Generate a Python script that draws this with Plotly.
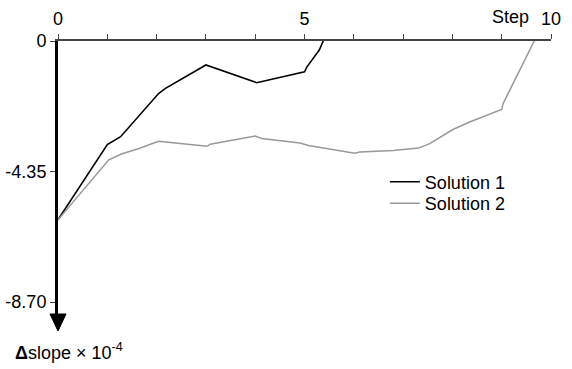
import plotly.graph_objects as go

# Data (Step vs Δslope ×10^-4)
sol1_x = [0, 1.0, 1.27, 1.63, 2.04, 2.18, 3.0, 4.03, 5.0, 5.05, 5.3, 5.38]
sol1_y = [-5.96, -3.45, -3.19, -2.53, -1.75, -1.58, -0.80, -1.39, -1.03, -0.86, -0.30, 0.0]

sol2_x = [0, 1.03, 1.30, 1.63, 2.04, 2.48, 3.02, 3.09, 4.0, 4.13, 4.91, 5.08, 5.45,
          6.02, 6.12, 6.8, 7.31, 7.54, 8.01, 8.35, 9.0, 9.03, 9.66]
sol2_y = [-5.96, -3.96, -3.76, -3.59, -3.34, -3.42, -3.51, -3.44, -3.17, -3.25, -3.40, -3.48, -3.59,
          -3.74, -3.70, -3.65, -3.57, -3.42, -2.95, -2.70, -2.28, -2.08, 0.0]

x_ticks = [0, 5, 10]
x_ticktext = ["0", "5", "10"]
y_ticks = [0, -4.35, -8.70]
y_ticktext = ["0", "-4.35", "-8.70"]

FONT = "Liberation Sans, Arial, sans-serif"
FS = 18

fig = go.Figure()
fig.add_trace(go.Scatter(x=sol1_x, y=sol1_y, mode="lines", name="Solution 1",
                         line=dict(color="#000000", width=1.6), legend="legend"))
fig.add_trace(go.Scatter(x=sol2_x, y=sol2_y, mode="lines", name="Solution 2",
                         line=dict(color="#999999", width=1.5), legend="legend2"))

leg_common = dict(xanchor="left", yanchor="middle", bgcolor="rgba(0,0,0,0)",
                  borderwidth=0, itemwidth=30, font=dict(family=FONT, size=FS, color="#000"))

fig.update_layout(
    width=572, height=369,
    margin=dict(l=58, r=21, t=41, b=55, autoexpand=False),
    paper_bgcolor="white", plot_bgcolor="white",
    font=dict(family=FONT, size=FS, color="#000"),
    showlegend=True,
    legend=dict(x=0.663, y=0.4835, **leg_common),
    legend2=dict(x=0.663, y=0.4048, **leg_common),
    xaxis=dict(side="top", range=[0, 10], tickmode="array", tickvals=x_ticks,
               ticktext=x_ticktext, showgrid=False, zeroline=False, automargin=False,
               showline=True, linecolor="#444", linewidth=1.5,
               ticks="outside", ticklen=5, tickcolor="#444", tickwidth=1,
               ticklabelstandoff=2,
               minor=dict(dtick=1, tick0=0, ticks="outside", ticklen=5,
                          tickcolor="#444", tickwidth=1, showgrid=False)),
    yaxis=dict(range=[-9.1, 0], tickmode="array", tickvals=y_ticks,
               ticktext=y_ticktext, showgrid=False, zeroline=False, automargin=False,
               showline=True, linecolor="#000", linewidth=3,
               ticks="outside", ticklen=5, tickcolor="#444", tickwidth=1),
)

# "Step" label near the x-axis end
fig.add_annotation(x=9.18, y=1, xref="x", yref="paper", text="Step", showarrow=False,
                   xanchor="center", yanchor="middle", yshift=24,
                   font=dict(family=FONT, size=FS))

# Arrow head at the bottom of the y axis
fig.add_shape(type="path", xref="paper", yref="paper", xsizemode="pixel", ysizemode="pixel",
              xanchor=0, yanchor=0, path="M -8 0 L 8 0 L 0 -17 Z",
              fillcolor="#000", line=dict(color="#000", width=1))

# Y-axis title below the arrow
fig.add_annotation(x=0, y=0, xref="paper", yref="paper", xanchor="left", yanchor="middle",
                   xshift=-45, yshift=-37,
                   text="<b>Δ</b>slope × 10<sup>-4</sup>", showarrow=False,
                   font=dict(family=FONT, size=FS))

fig.write_html("out.html")
